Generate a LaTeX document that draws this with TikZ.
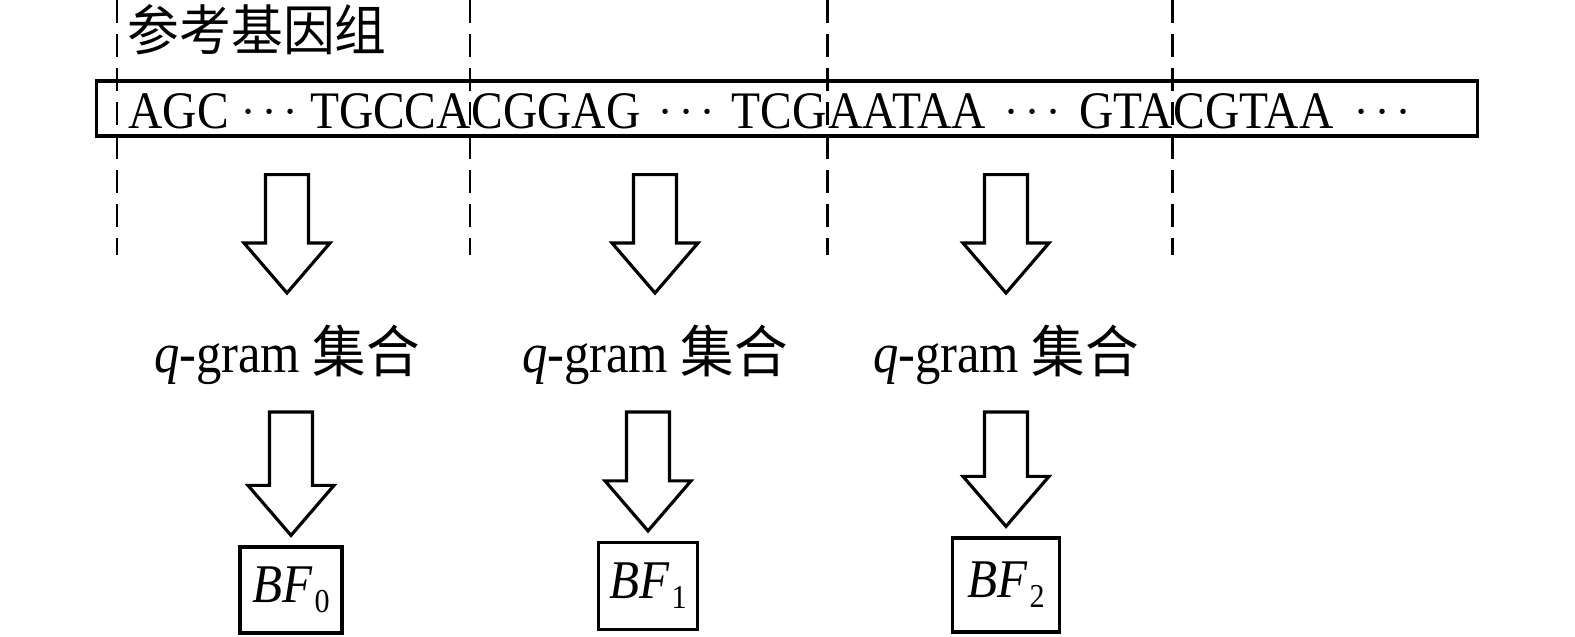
\documentclass[tikz,border=0pt]{standalone}
\usepackage{fontspec}
\setmainfont{Liberation Serif}[FakeStretch=0.9]
\newfontfamily\cjk{Noto Sans CJK SC}[FakeStretch=0.95]
\usetikzlibrary{calc}

% three dots between the bases
\newcommand\seqdots{\raisebox{0.06em}{$\mathord{\cdot}\mkern2.5mu\mathord{\cdot}\mkern2.5mu\mathord{\cdot}$}}

% hollow block arrow: #1 gives the top of the shaft, #2 the tip
\newcommand\fatarrow[2]{%
  \draw[fatarrow] let \p1=#1, \p2=#2 in
    (\x2-0.215cm,\y1) -- (\x2-0.215cm,\y2+0.5cm) -- (\x2-0.43cm,\y2+0.5cm)
    -- (\x2,\y2) -- (\x2+0.43cm,\y2+0.5cm) -- (\x2+0.215cm,\y2+0.5cm)
    -- (\x2+0.215cm,\y1) -- cycle;}

\begin{document}
\begin{tikzpicture}[x=0.01cm,y=-0.01cm,
  cutline/.style={line width=0.85pt,dash pattern=on 0.23cm off 0.11cm},
  fatarrow/.style={line width=0.9pt,line join=miter},
  seqtext/.style={inner sep=0pt,anchor=base west,font=\fontsize{15}{18}\selectfont},
  qtext/.style={inner sep=0pt,anchor=base,font=\fontsize{16}{18}\selectfont},
  bfbox/.style={draw,line width=0.9pt,inner sep=0pt,font=\fontsize{15.5}{18}\selectfont}]

  \useasboundingbox (0,0) rectangle (1575,636);
  \foreach \x in {117,470,827,1172}
    \draw[cutline] (\x,0) -- (\x,255);

  \node[draw,line width=0.9pt,minimum width=13.8cm,minimum height=0.55cm,inner sep=0pt] (seq) at (787,108.5) {};
  \node[inner sep=0pt,anchor=west,font=\fontsize{15.5}{18}\selectfont\cjk] (ref) at (127,30) {参考基因组};

  \node[seqtext] (s0) at (128,128) {\hbox to 3.42cm{AGC\hfill\seqdots\hfill TGCCA}};
  \node[seqtext] (s1) at (471,128) {\hbox to 3.55cm{CGGAG\hfill\seqdots\hfill TCG}};
  \node[seqtext] (s2) at (828,128) {\hbox to 3.44cm{AATAA\hfill\seqdots\hfill GTA}};
  \node[seqtext] (s3) at (1173,128) {CGTAA\hspace{0.4em}\seqdots};

  \foreach \i/\xq/\xb/\yb/\wb/\hb in {0/287/291/590/1.02/0.86, 1/655/648/586/0.99/0.87, 2/1006/1006/585/1.07/0.94}
  {
    \node[qtext] (qg\i) at (\xq,372) {\textit{q}-gram {\cjk 集合}};
    \node[bfbox,minimum width=\wb cm,minimum height=\hb cm] (bf\i) at (\xb,\yb)
      {\textit{BF}\kern0.5pt\raisebox{-2.8pt}{\fontsize{9.5}{10}\selectfont\i}};
    \fatarrow{($(seq.south -| qg\i.base)+(0,37)$)}{($(qg\i.base)+(0,-79)$)}
    \fatarrow{($(qg\i.base)+(0,40)$)}{($(bf\i.north)+(0,-10)$)}
  }
\end{tikzpicture}
\end{document}
